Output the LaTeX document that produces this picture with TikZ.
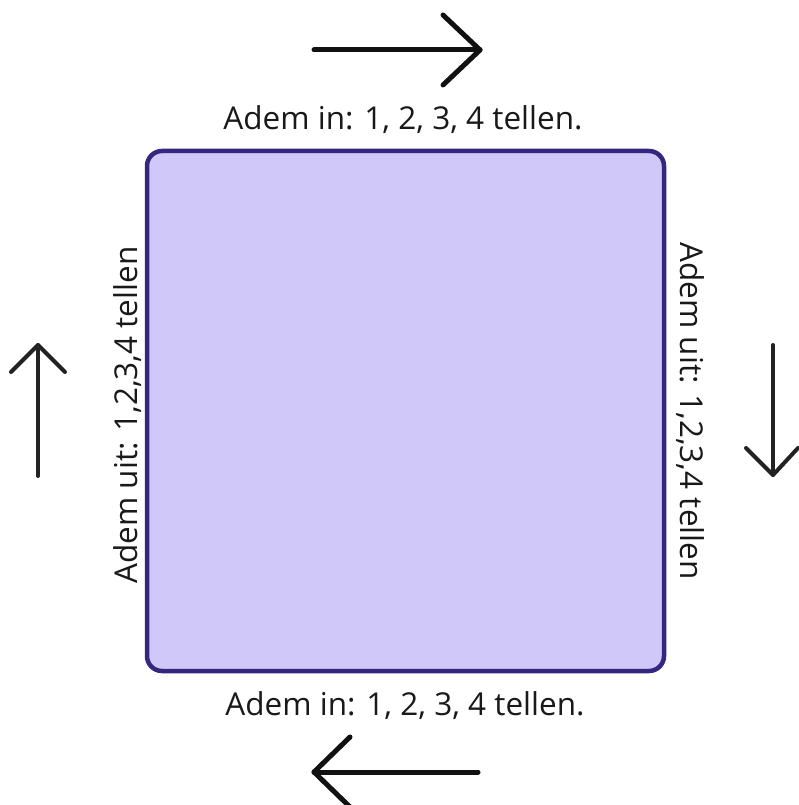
\documentclass[tikz,border=0pt]{standalone}
\usepackage{fontspec}
\setmainfont{Open Sans}
\definecolor{boxfill}{HTML}{CFC8F8}
\definecolor{boxline}{HTML}{35277F}
\definecolor{arrowblack}{HTML}{111111}
\definecolor{arrowgray}{HTML}{222222}
\begin{document}
\begin{tikzpicture}[x=1pt,y=-1pt,
  lbl/.style={font=\fontsize{31.5}{36}\selectfont, inner sep=0pt, text=black!90},
  bigarrow/.style={draw=arrowblack, line width=5pt, line cap=round, line join=round},
  smallarrow/.style={draw=arrowgray, line width=4pt, line cap=round, line join=round}]
\useasboundingbox (0,0) rectangle (798,805);
% square
\draw[fill=boxfill, draw=boxline, line width=4.5pt, rounded corners=15pt] (147,151) rectangle (664,671);
% labels
\node[lbl] (top) at (403,120) {Adem in: 1, 2, 3, 4 tellen.};
\node[lbl] (bottom) at (405,706) {Adem in: 1, 2, 3, 4 tellen.};
\node[lbl, rotate=90] (left) at (128,415) {Adem uit: 1,2,3,4 tellen};
\node[lbl, rotate=-90] (right) at (690,411) {Adem uit: 1,2,3,4 tellen};
% top arrow
\coordinate (ta1) at (314,50); \coordinate (ta2) at (480,50);
\draw[bigarrow] (ta1) -- (ta2);
\draw[bigarrow] (443,15) -- (ta2) -- (443,85);
% bottom arrow
\coordinate (ba1) at (478,772); \coordinate (ba2) at (314,772);
\draw[bigarrow] (ba1) -- (ba2);
\draw[bigarrow] (350,737) -- (ba2) -- (350,807);
% left arrow
\coordinate (la1) at (38,476); \coordinate (la2) at (38,345);
\draw[smallarrow] (la1) -- (la2);
\draw[smallarrow] (11,372) -- (la2) -- (65,372);
% right arrow
\coordinate (ra1) at (773,345); \coordinate (ra2) at (773,475);
\draw[smallarrow] (ra1) -- (ra2);
\draw[smallarrow] (746,448) -- (ra2) -- (798,448);
\end{tikzpicture}
\end{document}
